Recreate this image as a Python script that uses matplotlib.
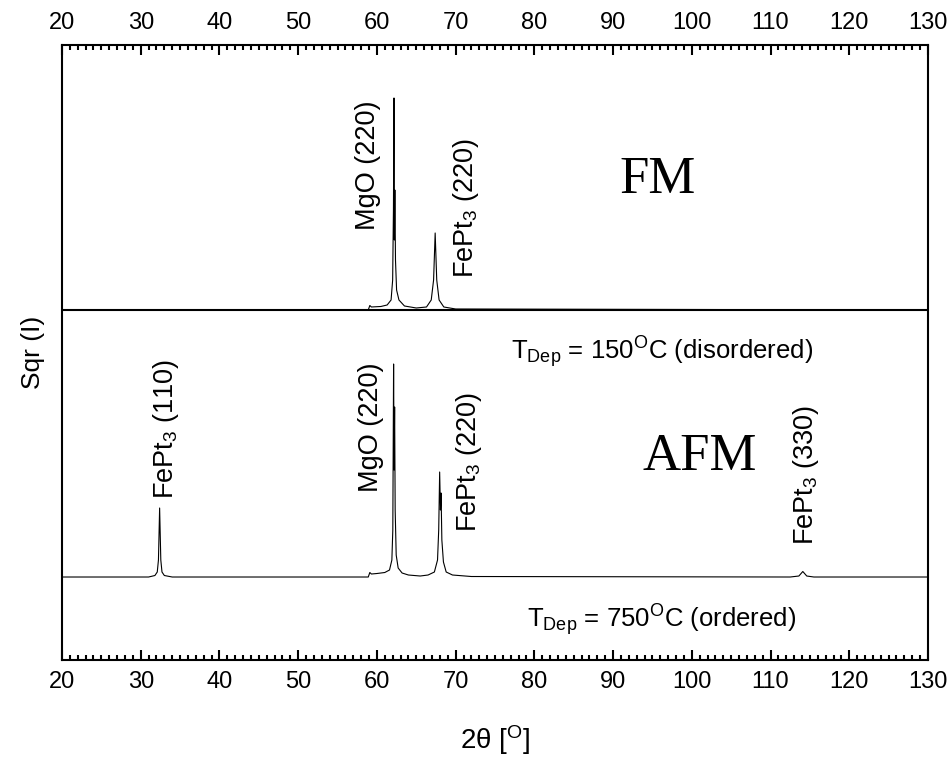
import numpy as np
import matplotlib
matplotlib.use("Agg")
import matplotlib.pyplot as plt
from matplotlib.ticker import MultipleLocator

plt.rcParams['font.family'] = ['Liberation Sans', 'DejaVu Sans']
plt.rcParams['mathtext.fontset'] = 'custom'
plt.rcParams['mathtext.rm'] = 'Liberation Sans'
plt.rcParams['mathtext.it'] = 'Liberation Sans:italic'

# 2theta (deg) and sqrt(I) (arb. units)
afm_2theta = [20, 31.0, 31.8, 32.1, 32.25, 32.4, 32.55, 32.7, 33.0, 34.0,
              58.9, 59.1, 59.3, 60.0, 61.0, 61.6, 61.9, 62.02, 62.12, 62.18,
              62.25, 62.32, 62.45, 62.7, 63.2, 64.0, 65.5,
              66.5, 67.3, 67.7, 67.85, 67.97, 68.07, 68.15, 68.25, 68.45, 68.8,
              69.6, 72.0, 112.5, 113.6, 114.1, 114.6, 115.5, 130]
afm_sqrt_i = [0.83, 0.83, 0.845, 0.88, 1.0, 1.52, 1.0, 0.88, 0.845, 0.83,
              0.83, 0.875, 0.86, 0.865, 0.875, 0.90, 1.0, 1.3, 2.96, 1.9,
              2.53, 1.5, 1.05, 0.92, 0.87, 0.85, 0.84,
              0.85, 0.88, 1.0, 1.3, 1.88, 1.5, 1.67, 1.2, 0.98, 0.88,
              0.85, 0.835, 0.83, 0.84, 0.885, 0.84, 0.83, 0.83]

fm_2theta = [20, 58.9, 59.1, 59.3, 60.5, 61.3, 61.8, 62.0, 62.1, 62.17,
             62.22, 62.28, 62.36, 62.5, 62.8, 63.5, 65.0,
             66.3, 66.9, 67.2, 67.4, 67.6, 67.9, 68.5, 70.0, 130]
fm_sqrt_i = [3.50, 3.50, 3.545, 3.53, 3.535, 3.55, 3.60, 3.8, 4.5, 5.62,
             4.2, 4.70, 4.0, 3.7, 3.6, 3.54, 3.52,
             3.53, 3.6, 3.8, 4.27, 3.8, 3.6, 3.53, 3.51, 3.50]

fm_baseline = 3.50

fig = plt.figure(figsize=(9.51, 7.61), dpi=100)
ax = fig.add_axes([0.0652, 0.1327, 0.9106, 0.8082])

ax.plot(afm_2theta, afm_sqrt_i, color='black', lw=0.8)
ax.plot(fm_2theta, fm_sqrt_i, color='black', lw=0.8)
ax.axhline(fm_baseline, color='black', lw=1.5)

ax.set_xlim(20, 130)
ax.set_ylim(0, 6.15)

for s in ax.spines.values():
    s.set_linewidth(1.5)

ax.xaxis.set_major_locator(MultipleLocator(10))
ax.xaxis.set_minor_locator(MultipleLocator(1))
ax.tick_params(axis='x', which='both', direction='in', top=True, bottom=True,
               labeltop=True, labelbottom=True, labelsize=17, width=1.5)
ax.tick_params(axis='x', which='major', length=7, pad=8)
ax.tick_params(axis='x', which='minor', length=3.5)
ax.set_yticks([])

ax.set_xlabel(r'2θ [$^{\rm O}$]', fontsize=20, labelpad=22)
ax.set_ylabel('Sqr (I)', fontsize=19, labelpad=12)

# peak labels
lab = dict(rotation=90, ha='center', va='center', fontsize=19.5)
ax.text(58.9, 4.95, 'MgO (220)', **lab)
ax.text(71.3, 4.52, r'FePt$_3$ (220)', **lab)
ax.text(59.2, 2.33, 'MgO (220)', **lab)
ax.text(71.7, 1.98, r'FePt$_3$ (220)', **lab)
ax.text(33.2, 2.31, r'FePt$_3$ (110)', **lab)
ax.text(114.5, 1.85, r'FePt$_3$ (330)', **lab)

ax.text(95.6, 4.67, 'FM', family='Liberation Serif', fontsize=38,
        ha='center', va='baseline')
ax.text(101.0, 1.90, 'AFM', family='Liberation Serif', fontsize=38,
        ha='center', va='baseline')

ax.text(96.2, 3.01, r'T$_{\rm Dep}$ = 150$^{\rm O}$C (disordered)',
        fontsize=18.5, ha='center', va='baseline')
ax.text(96.1, 0.33, r'T$_{\rm Dep}$ = 750$^{\rm O}$C (ordered)',
        fontsize=18.5, ha='center', va='baseline')

fig.savefig('out.png', dpi=100)
